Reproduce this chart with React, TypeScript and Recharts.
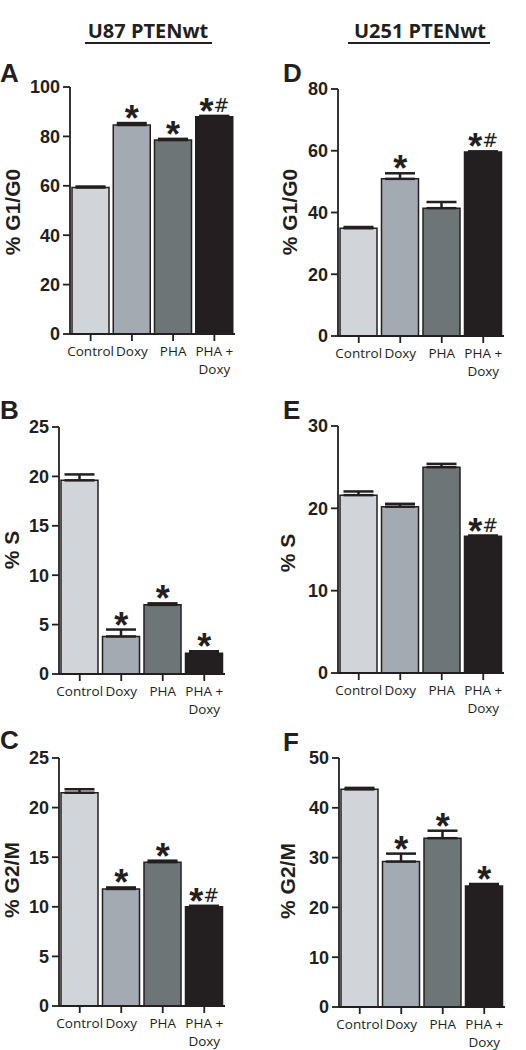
import React from "react"
import { ComposedChart, Bar, Line, XAxis, YAxis, ErrorBar, LabelList, Cell } from "recharts"

// treatment groups (shared by every panel)
const groups = ["Control", "Doxy", "PHA", "PHA +\nDoxy"]
const barColors = ["#d1d4d9", "#a3aab2", "#6d7576", "#231f20"]

// U87 PTENwt
const u87G1 = [59.3, 84.6, 78.5, 88.0]
const u87G1Err = [0.4, 0.8, 0.5, 0.3]
const u87G1Sig = ["", "*", "*", "*#"]

const u87S = [19.6, 3.8, 7.0, 2.1]
const u87SErr = [0.6, 0.7, 0.15, 0.2]
const u87SSig = ["", "*", "*", "*"]

const u87G2 = [21.5, 11.8, 14.5, 10.0]
const u87G2Err = [0.35, 0.15, 0.15, 0.1]
const u87G2Sig = ["", "*", "*", "*#"]

// U251 PTENwt
const u251G1 = [34.9, 50.9, 41.4, 59.6]
const u251G1Err = [0.4, 1.8, 2.0, 0.2]
const u251G1Sig = ["", "*", "", "*#"]

const u251S = [21.6, 20.2, 25.0, 16.6]
const u251SErr = [0.45, 0.35, 0.4, 0.1]
const u251SSig = ["", "", "", "*#"]

const u251G2 = [43.7, 29.2, 33.9, 24.3]
const u251G2Err = [0.3, 1.6, 1.5, 0.4]
const u251G2Sig = ["", "*", "*", "*"]

const ink = "#231f20"
const arial = "'Liberation Sans', Arial, sans-serif"
const myriad = "'Open Sans', 'Noto Sans', sans-serif"

function CatTick(props: any) {
  const { x, y, payload } = props
  const lines = String(payload.value).split("\n")
  return (
    <text x={x} y={y + 13} textAnchor="middle" fill={ink} fontSize={13.5} fontFamily={myriad}>
      {lines.map((l, i) => (
        <tspan key={i} x={x} dy={i === 0 ? 0 : 18}>
          {l}
        </tspan>
      ))}
    </text>
  )
}

const renderSig = (props: any) => {
  const { value } = props
  if (!value) return null
  const vb = props.viewBox || {}
  const x = vb.x ?? props.x
  const y = vb.y ?? props.y
  return (
    <text x={x} y={y + 8} textAnchor="middle" fill={ink} fontFamily={arial}>
      <tspan fontSize={36} fontWeight={700}>*</tspan>
      {String(value).includes("#") && (
        <tspan fontSize={19} fontFamily="'DejaVu Sans', sans-serif" dy={-12}>
          #
        </tspan>
      )}
    </text>
  )
}

interface PanelProps {
  values: number[]
  errs: number[]
  sigs: string[]
  max: number
  ticks: number[]
  colX: number
  plotLeft: number
  plotRight: number
  plotTop: number
  plotBottom: number
}

function Panel({ values, errs, sigs, max, ticks, colX, plotLeft, plotRight, plotTop, plotBottom }: PanelProps) {
  const data = groups.map((name, i) => ({
    name,
    value: values[i],
    err: [0, errs[i]],
    top: values[i] + errs[i],
    sig: sigs[i],
  }))
  const YW = 45
  const XH = 48
  const height = plotBottom - plotTop + 30 + 50
  return (
    <div style={{ position: "absolute", left: colX, top: plotTop - 30 }}>
      <ComposedChart
        width={263}
        height={height}
        data={data}
        margin={{ top: 30, right: colX + 263 - plotRight, bottom: 50 - XH, left: plotLeft - colX - YW }}
      >
        <XAxis
          dataKey="name"
          height={XH}
          interval={0}
          tickSize={7}
          tickMargin={2}
          stroke={ink}
          strokeWidth={1.8}
          tick={<CatTick />}
        />
        <YAxis
          width={YW}
          domain={[0, max]}
          ticks={ticks}
          interval={0}
          tickSize={7}
          tickMargin={3}
          stroke={ink}
          strokeWidth={1.8}
          tick={{ fill: ink, fontSize: 18, fontWeight: 700, fontFamily: arial }}
        />
        <Bar dataKey="value" barSize={37} stroke={ink} strokeWidth={1.5} isAnimationActive={false}>
          {data.map((d, i) => (
            <Cell key={d.name} fill={barColors[i]} />
          ))}
          <ErrorBar dataKey="err" direction="y" width={15} stroke={ink} strokeWidth={2.5} />
        </Bar>
        <Line dataKey="top" stroke="none" dot={false} activeDot={false} legendType="none" isAnimationActive={false}>
          <LabelList dataKey="sig" content={renderSig} />
        </Line>
      </ComposedChart>
    </div>
  )
}

function YLabel({ text, cx, cy }: { text: string; cx: number; cy: number }) {
  return (
    <div
      style={{
        position: "absolute",
        left: cx,
        top: cy,
        transform: "translate(-50%, -50%) rotate(-90deg)",
        whiteSpace: "nowrap",
        font: `700 21px ${arial}`,
        color: ink,
      }}
    >
      {text}
    </div>
  )
}

function Letter({ text, x, y }: { text: string; x: number; y: number }) {
  return (
    <div style={{ position: "absolute", left: x, top: y, font: `700 26px ${arial}`, color: ink }}>{text}</div>
  )
}

export default function App() {
  return (
    <div
      style={{
        position: "absolute",
        left: 0,
        top: 0,
        width: 526,
        height: 1050,
        overflow: "hidden",
        background: "#fff",
      }}
    >
      {/* column titles */}
      <div style={{ position: "absolute", left: 48, top: 17, width: 200, textAlign: "center", font: `700 20px ${myriad}`, color: ink }}>
        U87 PTENwt
      </div>
      <div style={{ position: "absolute", left: 85, top: 42, width: 127, height: 1.5, background: ink }} />
      <div style={{ position: "absolute", left: 320, top: 17, width: 200, textAlign: "center", font: `700 20px ${myriad}`, color: ink }}>
        U251 PTENwt
      </div>
      <div style={{ position: "absolute", left: 348, top: 42, width: 142, height: 1.5, background: ink }} />

      <Letter text="A" x={0} y={58} />
      <Letter text="B" x={0} y={395} />
      <Letter text="C" x={0} y={725} />
      <Letter text="D" x={283} y={58} />
      <Letter text="E" x={283} y={395} />
      <Letter text="F" x={283} y={727} />

      <YLabel text="% G1/G0" cx={13} cy={212} />
      <YLabel text="% S" cx={12} cy={550} />
      <YLabel text="% G2/M" cx={12} cy={880} />
      <YLabel text="% G1/G0" cx={290} cy={212} />
      <YLabel text="% S" cx={288} cy={553} />
      <YLabel text="% G2/M" cx={288} cy={881} />

      <Panel values={u87G1} errs={u87G1Err} sigs={u87G1Sig} max={100} ticks={[0, 20, 40, 60, 80, 100]}
        colX={0} plotLeft={70} plotRight={235} plotTop={87} plotBottom={334} />
      <Panel values={u87S} errs={u87SErr} sigs={u87SSig} max={25} ticks={[0, 5, 10, 15, 20, 25]}
        colX={0} plotLeft={59} plotRight={225} plotTop={427} plotBottom={674} />
      <Panel values={u87G2} errs={u87G2Err} sigs={u87G2Sig} max={25} ticks={[0, 5, 10, 15, 20, 25]}
        colX={0} plotLeft={59} plotRight={225} plotTop={758} plotBottom={1006} />
      <Panel values={u251G1} errs={u251G1Err} sigs={u251G1Sig} max={80} ticks={[0, 20, 40, 60, 80]}
        colX={263} plotLeft={338} plotRight={504} plotTop={89} plotBottom={336} />
      <Panel values={u251S} errs={u251SErr} sigs={u251SSig} max={30} ticks={[0, 10, 20, 30]}
        colX={263} plotLeft={338} plotRight={504} plotTop={426} plotBottom={673} />
      <Panel values={u251G2} errs={u251G2Err} sigs={u251G2Sig} max={50} ticks={[0, 10, 20, 30, 40, 50]}
        colX={263} plotLeft={339} plotRight={505} plotTop={758} plotBottom={1007} />
    </div>
  )
}
